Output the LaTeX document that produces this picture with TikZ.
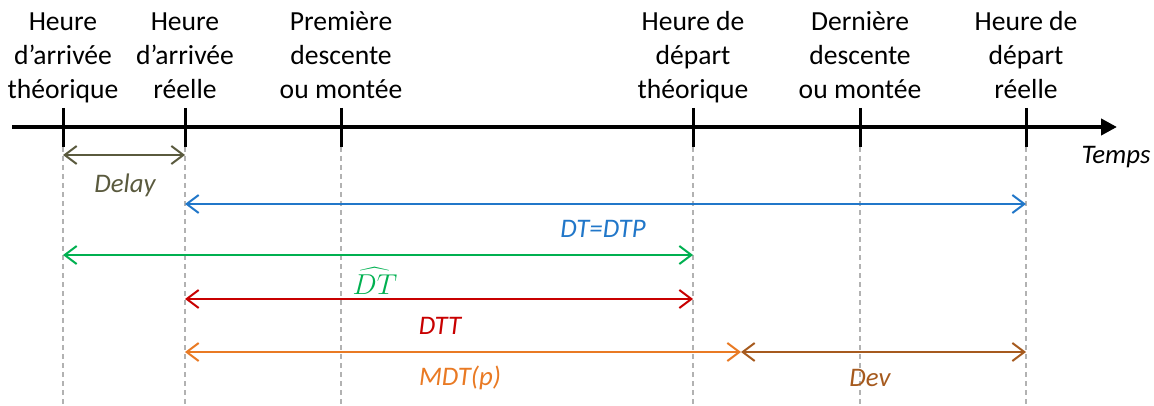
\documentclass[tikz,border=0pt]{standalone}
\usepackage{fontspec}
\setmainfont{Carlito}
\usetikzlibrary{arrows.meta}
\definecolor{delaycol}{HTML}{5A5A3E}
\definecolor{dtcol}{HTML}{2177C9}
\definecolor{hatcol}{HTML}{00B050}
\definecolor{dttcol}{HTML}{C80000}
\definecolor{mdtcol}{HTML}{E97A24}
\definecolor{devcol}{HTML}{A65A1E}
\begin{document}
\begin{tikzpicture}[x=0.5pt, y=-0.5pt,
  font=\fontsize{13.8}{17.2}\selectfont,
  tick/.style={line width=1.5pt},
  guide/.style={gray!60, line width=0.7pt, dash pattern=on 2.5pt off 2pt},
  span/.style={line width=1pt, {Straight Barb[length=6pt,width=9pt]}-{Straight Barb[length=6pt,width=9pt]}},
  event/.style={align=center, anchor=base, inner sep=0pt},
  lab/.style={font=\fontsize{13.4}{16}\selectfont\itshape, inner sep=0pt}]
\useasboundingbox (0,0) rectangle (1154,406);

% time axis
\coordinate (start) at (12,127);
\coordinate (end) at (1117,127);
\draw [line width=2pt, -{Triangle[length=8pt,width=8pt]}] (start) -- (end);
\node [lab] (temps) at (1116,157) {Temps};

% events on the axis
\coordinate (arrth) at (63,127);
\coordinate (arrre) at (185,127);
\coordinate (prem) at (341,127);
\coordinate (depth) at (693,127);
\coordinate (dern) at (860,127);
\coordinate (depre) at (1026,127);
\coordinate (mdt) at (741,127);

\foreach \c in {arrth,arrre,prem,depth,dern,depre} {
  \draw [tick] (\c) ++(0,-19) -- ++(0,39);
  \draw [guide] (\c) ++(0,20) -- (\c |- 0,406);
}

\node [event] (l1) at (63,99) {Heure\\d’arrivée\\théorique};
\node [event] (l2) at (185,99) {Heure\\d’arrivée\\réelle};
\node [event] (l3) at (341,99) {Première\\descente\\ou montée};
\node [event] (l4) at (693,99) {Heure de\\départ\\théorique};
\node [event] (l5) at (860,99) {Dernière\\descente\\ou montée};
\node [event] (l6) at (1026,99) {Heure de\\départ\\réelle};

% durations
\draw [span, delaycol] (arrth |- 0,155) -- (arrre |- 0,155);
\node [lab, delaycol] (delay) at (125,185) {Delay};

\draw [span, dtcol] (arrre |- 0,204) -- (depre |- 0,204);
\node [lab, dtcol] (dt) at (603,229) {DT=DTP};

\draw [span, hatcol] (arrth |- 0,255) -- (depth |- 0,255);
\node [lab, hatcol] (dthat) at (375,281) {$\widehat{DT}$};

\draw [span, dttcol] (arrre |- 0,299) -- (depth |- 0,299);
\node [lab, dttcol] (dtt) at (440,326) {DTT};

\draw [span, mdtcol] (arrre |- 0,352) -- (mdt |- 0,352);
\node [lab, mdtcol] (mdtp) at (460,378) {MDT(p)};

\draw [span, devcol] (mdt |- 0,352) -- (depre |- 0,352);
\node [lab, devcol] (dev) at (870,378) {Dev};
\end{tikzpicture}
\end{document}
